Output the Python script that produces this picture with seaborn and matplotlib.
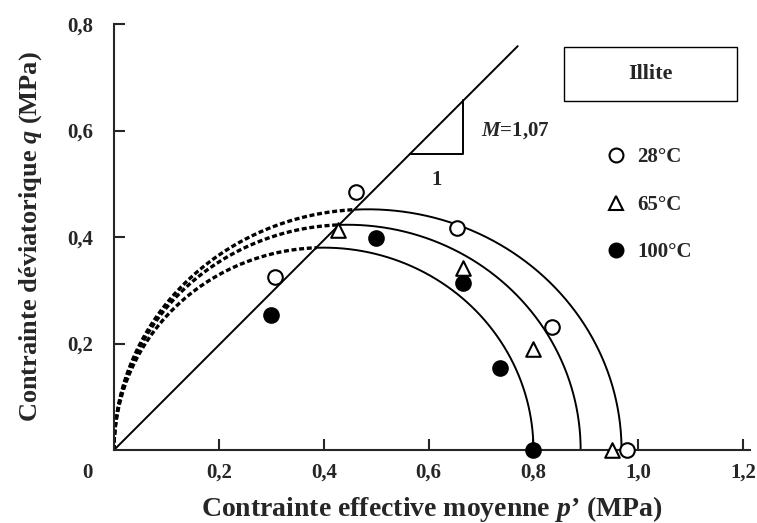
import numpy as np
import pandas as pd
import matplotlib
matplotlib.use("Agg")
import matplotlib.pyplot as plt
from matplotlib.patches import Rectangle
from matplotlib.lines import Line2D
import seaborn as sns

# Données
p_28 = [0.307, 0.461, 0.654, 0.835, 0.978]
q_28 = [0.325, 0.485, 0.417, 0.231, 0.0]
p_65 = [0.427, 0.665, 0.800, 0.950]
q_65 = [0.413, 0.342, 0.190, 0.0]
p_100 = [0.299, 0.500, 0.666, 0.736, 0.800]
q_100 = [0.254, 0.398, 0.314, 0.154, 0.0]
temperatures = ['28°C', '65°C', '100°C']

# Surfaces de charge (ellipses) : p0 et hauteur max
p0_list = [0.968, 0.890, 0.800]
qmax_list = [0.452, 0.423, 0.380]

# Ligne d'état critique
csl_slope = 0.985
csl_pmax = 0.770
M_label = '1,07'

sns.set_style("ticks")
plt.rcParams['font.family'] = ['Liberation Serif', 'DejaVu Serif']
plt.rcParams['font.weight'] = 'bold'
plt.rcParams['axes.labelweight'] = 'bold'
plt.rcParams['mathtext.fontset'] = 'custom'
plt.rcParams['mathtext.it'] = 'Liberation Serif:italic:bold'
plt.rcParams['mathtext.rm'] = 'Liberation Serif:bold'

fig = plt.figure(figsize=(7.57, 5.23), dpi=100)
ax = fig.add_axes([114 / 757, 73 / 523, 636 / 757, 426 / 523])

# Ellipses : pointillé au-dessus de la CSL, trait plein en dessous
for p0, qm in zip(p0_list, qmax_list):
    t = np.linspace(np.pi, 0, 600)
    pe = p0 / 2 + p0 / 2 * np.cos(t)
    qe = qm * np.sin(t)
    above = qe > csl_slope * pe
    k = np.argmax(~above)
    sns.lineplot(x=pe[:k + 1], y=qe[:k + 1], ax=ax, color='black', lw=2.4,
                 linestyle=(0, (1.5, 0.8)), sort=False, estimator=None)
    sns.lineplot(x=pe[k:], y=qe[k:], ax=ax, color='black', lw=1.4,
                 sort=False, estimator=None)

# CSL
sns.lineplot(x=[0, csl_pmax], y=[0, csl_slope * csl_pmax], ax=ax,
             color='black', lw=1.4)

# Triangle de pente
tri_p = [0.564, 0.665, 0.665]
tri_q = [0.555, 0.555, 0.658]
ax.plot(tri_p, tri_q, color='black', lw=1.4)
ax.text(0.765, 0.60, r'$M$=' + M_label, ha='center', va='center', fontsize=15)
ax.text(0.616, 0.507, '1', ha='center', va='center', fontsize=15)

# Points expérimentaux
df = pd.DataFrame({
    'p': p_28 + p_65 + p_100,
    'q': q_28 + q_65 + q_100,
    'T': [temperatures[0]] * len(p_28) + [temperatures[1]] * len(p_65)
         + [temperatures[2]] * len(p_100),
})
styles = {'28°C': ('o', 'white'), '65°C': ('^', 'white'), '100°C': ('o', 'black')}
for T in temperatures:
    sub = df[df['T'] == T]
    m, fc = styles[T]
    sns.scatterplot(data=sub, x='p', y='q', ax=ax, marker=m, color=fc,
                    edgecolor='black', linewidth=1.5, s=110, zorder=5,
                    clip_on=False)

# Légende
handles = [Line2D([], [], ls='none', marker=styles[T][0], markersize=10,
                  markerfacecolor=styles[T][1], markeredgecolor='black',
                  markeredgewidth=1.5) for T in temperatures]
ax.legend(handles, temperatures, loc='upper left', bbox_to_anchor=(0.76, 0.73),
          frameon=False, fontsize=15, labelspacing=1.32, handletextpad=0.5,
          handlelength=1.0, borderaxespad=0)

# Cadre "Illite"
ax.add_patch(Rectangle((0.7075, 0.819), 0.272, 0.127, transform=ax.transAxes,
                       fill=False, edgecolor='black', lw=1.0))
ax.text(0.843, 0.883, 'Illite', transform=ax.transAxes, ha='center',
        va='center', fontsize=16)

# Axes
ax.set_xlim(0, 1.213)
ax.set_ylim(0, 0.8)
ax.set_xticks([0.2, 0.4, 0.6, 0.8, 1.0, 1.2])
ax.set_xticklabels(['0,2', '0,4', '0,6', '0,8', '1,0', '1,2'])
ax.set_yticks([0.2, 0.4, 0.6, 0.8])
ax.set_yticklabels(['0,2', '0,4', '0,6', '0,8'])
ax.tick_params(direction='in', length=8, width=1.5, labelsize=15, pad=15)
ax.tick_params(axis='x', pad=9)
for s in ['top', 'right']:
    ax.spines[s].set_visible(False)
for s in ['left', 'bottom']:
    ax.spines[s].set_linewidth(1.5)
ax.text(-0.05, -0.043, '0', ha='center', va='center', fontsize=15)

ax.set_xlabel("Contrainte effective moyenne $p$\u2019 (MPa)", fontsize=20,
              labelpad=8)
ax.set_ylabel("Contrainte déviatorique $q$ (MPa)", fontsize=19, labelpad=17)

fig.savefig('out.png', dpi=100)
